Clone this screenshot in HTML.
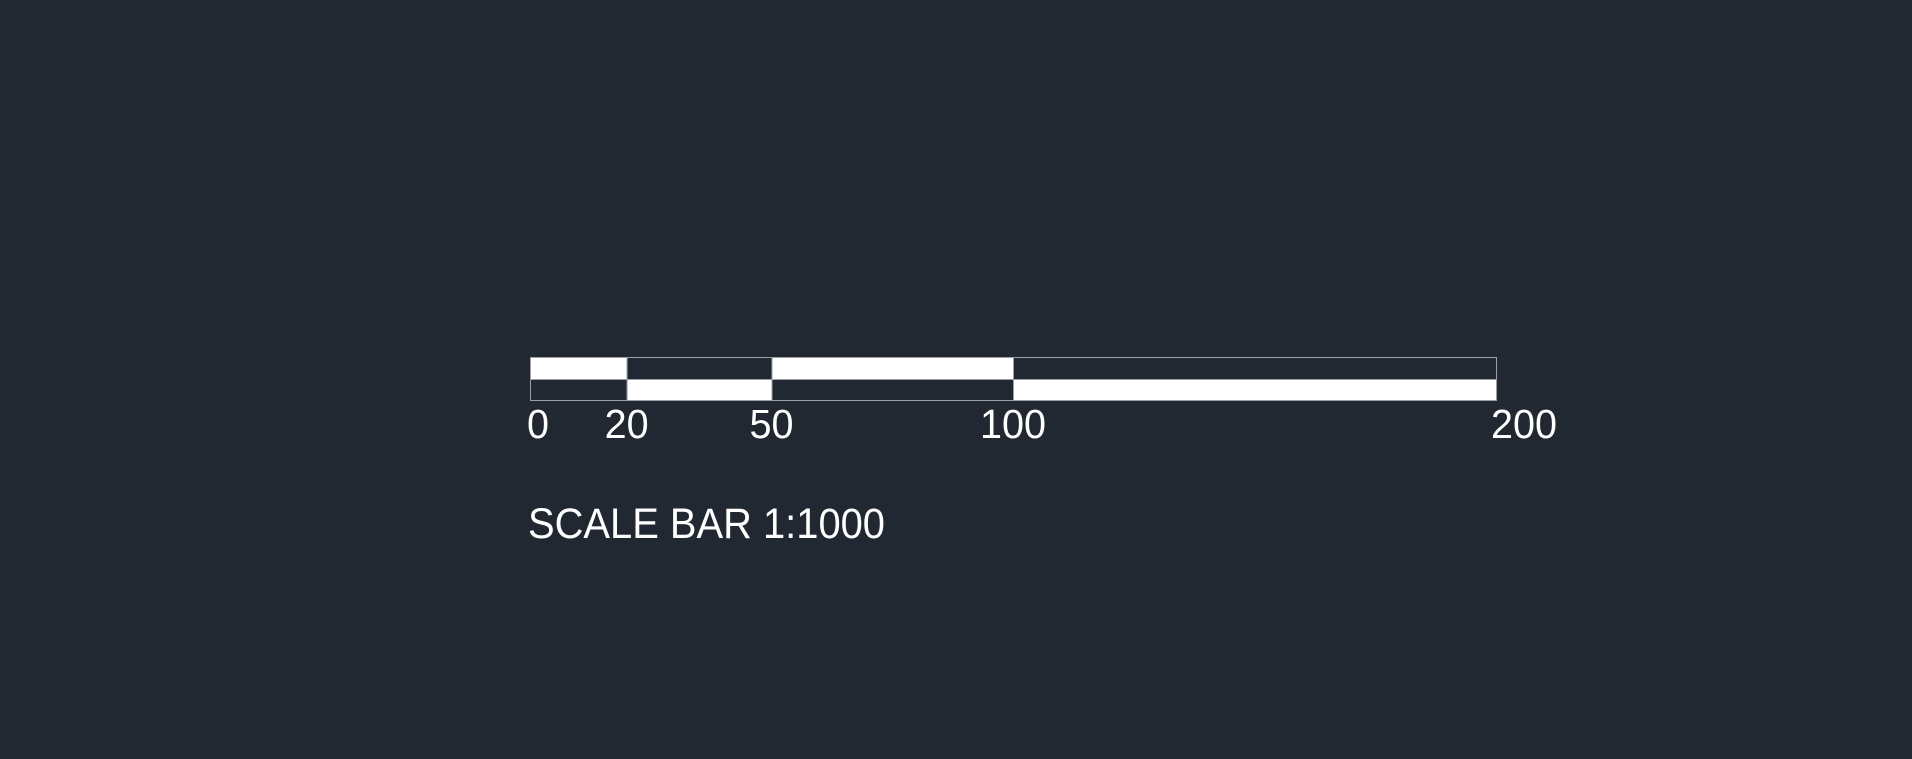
<!DOCTYPE html>
<html><head><meta charset="utf-8"><style>
html,body{margin:0;padding:0;background:#222831;width:1912px;height:759px;overflow:hidden}
svg{display:block}
text{font-family:"Liberation Sans",sans-serif;fill:#fff}
</style></head><body>
<svg width="1912" height="759">
<g id="bar"></g>
<g id="labels"></g>
<text x="528" y="538" font-size="43" textLength="357" lengthAdjust="spacingAndGlyphs">SCALE BAR 1:1000</text>
</svg>
<script>
const ticks = [0, 20, 50, 100, 200];
const tickLabels = ["0", "20", "50", "100", "200"];
const domainMax = 200;
const x0 = 530, x1 = 1496;
function xs(v){ return x0 + (v/domainMax)*(x1-x0); }
const NS="http://www.w3.org/2000/svg";
const bar=document.getElementById('bar'), lab=document.getElementById('labels');
const dark="#222831";
for(let i=0;i<ticks.length-1;i++){
  const a=xs(ticks[i]), b=xs(ticks[i+1]);
  for(let r=0;r<2;r++){
    const rc=document.createElementNS(NS,'rect');
    rc.setAttribute('x',a+0.5);rc.setAttribute('y',r?379.5:357.5);
    rc.setAttribute('width',b-a);rc.setAttribute('height',r?21:22);
    rc.setAttribute('fill',((i+r)%2===0)?'#ffffff':dark);
    rc.setAttribute('stroke','#9aa0a6');rc.setAttribute('stroke-width','1');
    
    
    bar.appendChild(rc);
  }
}
ticks.forEach((t,i)=>{
  let x=xs(t), anchor='middle';
  const w=tickLabels[i].length*22;
  if(i===0){ x=x-3; anchor='start'; }
  if(i===ticks.length-1){ x=x-5; anchor='start'; }
  const tx=document.createElementNS(NS,'text');
  tx.setAttribute('x',x);tx.setAttribute('y',438);
  tx.setAttribute('font-size','41');tx.setAttribute('text-anchor',anchor);
  tx.setAttribute('textLength',w);tx.setAttribute('lengthAdjust','spacingAndGlyphs');
  tx.textContent=tickLabels[i];
  
  
  lab.appendChild(tx);
});
</script>
</body></html>
